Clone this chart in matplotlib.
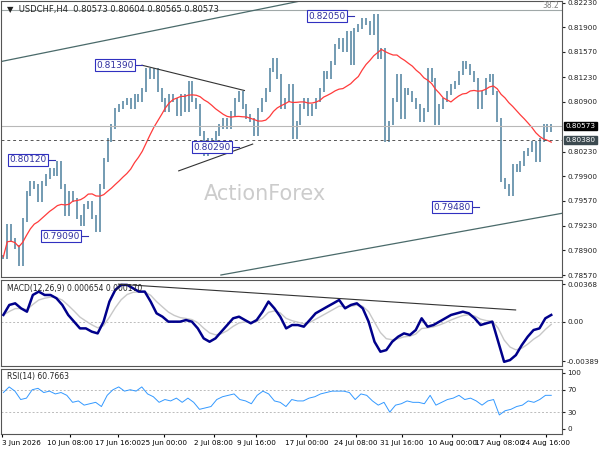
import numpy as np
import matplotlib
matplotlib.use("Agg")
import matplotlib.pyplot as plt

# closes of the H4 bars
closes = [
    0.78815, 0.79219, 0.79039, 0.78950, 0.78725, 0.79309, 0.79668, 0.79802, 0.79757, 0.79578,
    0.79802, 0.79892, 0.79982, 0.79937, 0.80071, 0.79757, 0.79398, 0.79668, 0.79578, 0.79353,
    0.79264, 0.79488, 0.79533, 0.79353, 0.79174, 0.79757, 0.80116, 0.80385, 0.80565, 0.80789,
    0.80834, 0.80879, 0.80924, 0.80834, 0.80969, 0.80924, 0.81059, 0.81328, 0.81238, 0.81328,
    0.81059, 0.80924, 0.80789, 0.80969, 0.80924, 0.80744, 0.80969, 0.80789, 0.81148, 0.80924,
    0.80834, 0.80475, 0.80206, 0.80385, 0.80296, 0.80475, 0.80565, 0.80655, 0.80565, 0.80744,
    0.80924, 0.81014, 0.80834, 0.80699, 0.80655, 0.80475, 0.80789, 0.80924, 0.81059, 0.81328,
    0.81462, 0.81238, 0.80834, 0.80924, 0.81103, 0.80430, 0.80610, 0.80834, 0.80924, 0.80744,
    0.80834, 0.80924, 0.81059, 0.81283, 0.81238, 0.81417, 0.81642, 0.81732, 0.81597, 0.81821,
    0.81417, 0.81866, 0.81911, 0.82001, 0.81956, 0.81821, 0.82046, 0.81507, 0.81597, 0.80385,
    0.80610, 0.80924, 0.81238, 0.80699, 0.81059, 0.81014, 0.80924, 0.80834, 0.80655, 0.80789,
    0.81328, 0.81193, 0.80610, 0.80834, 0.80924, 0.81014, 0.81103, 0.81148, 0.81283, 0.81417,
    0.81373, 0.81283, 0.81193, 0.80834, 0.81014, 0.81193, 0.81238, 0.81014, 0.80655, 0.79847,
    0.79757, 0.79668, 0.80026, 0.79982, 0.80071, 0.80206, 0.80251, 0.80341, 0.80116, 0.80385,
    0.80565, 0.80520, 0.80573,
]

macd = [
    0.00066, 0.00164, 0.00180, 0.00131, 0.00098, 0.00262, 0.00295, 0.00262, 0.00262, 0.00230,
    0.00164, 0.00066, 0.0, -0.00066, -0.00066, -0.00098, -0.00115, 0.0, 0.00197, 0.00312,
    0.00361, 0.00361, 0.00328, 0.00295, 0.00295, 0.00197, 0.00082, 0.00049, 0.0, 0.0,
    0.0, 0.00016, 0.0, -0.00066, -0.00164, -0.00197, -0.00164, -0.00098, -0.00033, 0.00033,
    0.00049, 0.00016, -0.00016, 0.00016, 0.00098, 0.00197, 0.00131, 0.00049, -0.00066, -0.00033,
    -0.00033, -0.00049, 0.00016, 0.00082, 0.00115, 0.00148, 0.00180, 0.00213, 0.00131, 0.00164,
    0.00180, 0.00131, 0.0, -0.00197, -0.00295, -0.00279, -0.00197, -0.00148, -0.00115, -0.00131,
    -0.00082, 0.00033, -0.00049, -0.00033, 0.0, 0.00033, 0.00066, 0.00082, 0.00098, 0.00082,
    0.00033, -0.00033, -0.00016, 0.0, -0.00197, -0.00394, -0.00377, -0.00328, -0.00230, -0.00148,
    -0.00082, -0.00066, 0.00033, 0.00066,
]

rsi = [
    65, 75, 67.5, 52.5, 55, 70, 72.5, 65, 67.5, 62.5, 65, 60, 47.5, 50, 42.5, 45, 47.5, 40,
    60, 70, 75, 67.5, 70, 67.5, 75, 62.5, 57.5, 47.5, 52.5, 50, 55, 47.5, 55, 47.5, 35, 37.5,
    40, 52.5, 57.5, 60, 62.5, 52.5, 50, 45, 60, 67.5, 62.5, 50, 47.5, 40, 52.5, 50, 50, 55,
    57.5, 62.5, 65, 67.5, 67.5, 67.5, 65, 52.5, 62.5, 60, 50, 42.5, 47.5, 30, 42.5, 45, 50,
    47.5, 47.5, 45, 60, 42.5, 47.5, 52.5, 55, 60, 52.5, 55, 50, 42.5, 50, 52.5, 25, 32.5, 35,
    40, 42.5, 50, 47.5, 52.5, 60, 60,
]

xtick_labels = ["3 Jun 2026", "10 Jun 08:00", "17 Jun 16:00", "25 Jun 00:00", "2 Jul 08:00",
                "9 Jul 16:00", "17 Jul 00:00", "24 Jul 08:00", "31 Jul 16:00", "10 Aug 00:00",
                "17 Aug 08:00", "24 Aug 16:00"]
# tick positions as fraction of the bar range
xtick_frac = [-0.003, 0.121, 0.209, 0.293, 0.384, 0.462, 0.553, 0.643, 0.728, 0.819, 0.906, 0.99]

price_ticks = [0.82230, 0.81900, 0.81570, 0.81230, 0.80900, 0.80230, 0.79900,
               0.79570, 0.79230, 0.78900, 0.78570]

# swing labels: (fraction of bar range, price)
swings = [(0.253, 0.81390, "0.81390"), (0.095, 0.80120, "0.80120"), (0.155, 0.79090, "0.79090"),
          (0.43, 0.80290, "0.80290"), (0.64, 0.82050, "0.82050"), (0.868, 0.79480, "0.79480")]

last_price = 0.80573
level_price = 0.80380
fib_price = 0.82136

BAR = "#5b8aa6"
closes = np.array(closes)
n = len(closes)
x = np.arange(n)
m = n - 1
xlim = (-0.004 * m, 1.02 * m)

fig = plt.figure(figsize=(6, 4.5), dpi=100)
W = 0.935
ax = fig.add_axes([0.002, 0.3844, W, 0.614])
am = fig.add_axes([0.002, 0.1867, W, 0.1913])
ar = fig.add_axes([0.002, 0.0356, W, 0.1444])

# price bars (prev close -> close, a little wick)
opens = np.r_[closes[0], closes[:-1]]
lo = np.minimum(opens, closes) - 0.0003
hi = np.maximum(opens, closes) + 0.0003
ax.vlines(x, lo, hi, color=BAR, lw=1.2)
ma = np.convolve(closes, np.ones(18) / 18, mode="full")[:n]
ma[:18] = [closes[:i + 1].mean() for i in range(18)]
ax.plot(x, ma, color="#ff3b3b", lw=0.9)

ax.axhline(last_price, color="#b8b8b8", lw=0.8)
ax.axhline(level_price, color="#555555", lw=0.7, ls=(0, (3, 3)))
ax.axhline(fib_price, color="#a0a8a8", lw=0.8)
ax.text(0.995, fib_price, "38.2", transform=ax.get_yaxis_transform(), ha="right",
        va="bottom", fontsize=5.5, color="#808080")

# trend lines
ax.plot([xlim[0], 0.54 * m], [0.81440, 0.8225], color="#4a6a6a", lw=0.9)
ax.plot([0.397 * m, xlim[1]], [0.7857, 0.7940], color="#4a6a6a", lw=0.9)
ax.plot([0.253 * m, 0.44 * m], [0.81390, 0.81050], color="#333333", lw=0.8)
ax.plot([0.32 * m, 0.455 * m], [0.79970, 0.80330], color="#333333", lw=0.8)

for f, p, t in swings:
    xi = f * m
    ax.plot([xi - 2.2, xi], [p, p], color="#3030b0", lw=0.8)
    ax.text(xi - 2.2, p, t, ha="right", va="center", fontsize=6.5, color="#3030a0",
            bbox=dict(boxstyle="square,pad=0.15", fc="white", ec="#3030c0", lw=0.8))

ax.text(0.47, 0.3, "ActionForex", transform=ax.transAxes, ha="center", va="center",
        fontsize=15, color="#cccccc")
ax.text(0.01, 0.985, "\u25bc  USDCHF,H4  0.80573 0.80604 0.80565 0.80573",
        transform=ax.transAxes, ha="left", va="top", fontsize=6, color="#222222")

ax.set_ylim(0.78543, 0.82257)
ax.set_yticks(price_ticks)
ax.set_yticklabels([f"{v:.5f}" for v in price_ticks])
for p, fc in [(last_price, "black"), (level_price, "#3c4a50")]:
    ax.annotate(f"{p:.5f}", (1.006, p), xycoords=("axes fraction", "data"), ha="left",
                va="center", fontsize=5.2, color="white",
                bbox=dict(boxstyle="square,pad=0.15", fc=fc, ec=fc), annotation_clip=False)

# MACD
mx = np.linspace(0, m, len(macd))
macd = np.array(macd)
sig = np.zeros_like(macd)
sig[0] = macd[0]
for i in range(1, len(macd)):
    sig[i] = sig[i - 1] + 0.35 * (macd[i] - sig[i - 1])
am.axhline(0, color="#bbbbbb", lw=0.7, ls=(0, (2, 2)))
am.plot(mx, sig, color="#c8c8c8", lw=1.0)
am.plot(mx, macd, color="#00008b", lw=1.8)
am.plot([0.21 * m, 0.935 * m], [0.00368, 0.00115], color="#333333", lw=0.8)
am.set_ylim(-0.00435, 0.00410)
am.set_yticks([0.00368, 0.0, -0.00389])
am.set_yticklabels(["0.00368", "0.00", "-0.00389"])
am.text(0.01, 0.95, "MACD(12,26,9) 0.000654 0.000170", transform=am.transAxes,
        ha="left", va="top", fontsize=5.5, color="#222222")

# RSI
rx = np.linspace(0, m, len(rsi))
for lv in (70, 30):
    ar.axhline(lv, color="#bbbbbb", lw=0.7, ls=(0, (2, 2)))
ar.plot(rx, rsi, color="#3399ff", lw=0.7)
ar.set_ylim(-9, 107)
ar.set_yticks([100, 70, 30, 0])
ar.text(0.01, 0.95, "RSI(14) 60.7663", transform=ar.transAxes, ha="left", va="top",
        fontsize=5.5, color="#222222")

for a in (ax, am, ar):
    a.set_xlim(*xlim)
    a.yaxis.tick_right()
    a.tick_params(axis="y", labelsize=5.2, length=2, pad=1.5, colors="#222222")
    a.tick_params(axis="x", labelsize=5.2, length=2, pad=2)
    for s in a.spines.values():
        s.set_color("#555555")
        s.set_linewidth(0.8)
    if a is not ar:
        a.set_xticks([])

ar.set_xticks([f * m for f in xtick_frac])
ar.set_xticklabels(xtick_labels)
ar.get_xticklabels()[0].set_ha("left")

fig.savefig("out.png", dpi=100)
